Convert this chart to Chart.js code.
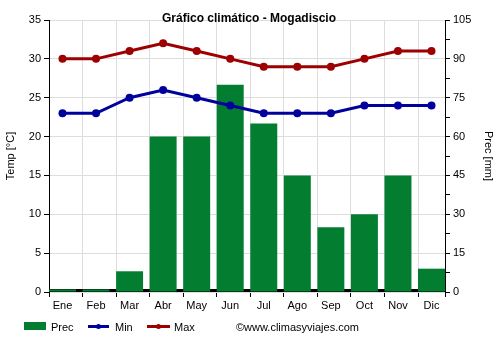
<!DOCTYPE html>
<html><head><meta charset="utf-8">
<script src="https://cdn.jsdelivr.net/npm/chart.js@4"></script>
<style>html,body{margin:0;padding:0;background:#fff}#wrap{width:500px;height:350px}</style>
</head><body><div id="wrap"><canvas id="c" width="500" height="350"></canvas></div>
<script>
const months = ['Ene','Feb','Mar','Abr','May','Jun','Jul','Ago','Sep','Oct','Nov','Dic'];
const prec = [1, 1, 8, 60, 60, 80, 65, 45, 25, 30, 45, 9];
const tMin = [23, 23, 25, 26, 25, 24, 23, 23, 23, 24, 24, 24];
const tMax = [30, 30, 31, 32, 31, 30, 29, 29, 29, 30, 31, 31];
const chartTitle = 'Gráfico climático - Mogadiscio';
const credit = '©www.climasyviajes.com';

const GREEN = '#037e31', BLUE = '#00009c', RED = '#9c0000';
const FONT = 'Arial, "Liberation Sans", sans-serif';
const HALF = 0.402;   // half bar width, in category units
const BARFRAC = 0.804;

const toXY = arr => arr.map((v, i) => ({ x: i, y: v }));

const overlay = {
  id: 'overlay',
  beforeDatasetsDraw(chart) {
    const ctx = chart.ctx, a = chart.chartArea;
    const y0 = Math.round(chart.scales.y.getPixelForValue(0));
    ctx.save();
    ctx.fillStyle = '#000';
    ctx.fillRect(a.left, y0 - 3, a.right - a.left, 3);
    ctx.restore();
  },
  afterDraw(chart) {
    const ctx = chart.ctx;
    ctx.save();
    ctx.fillStyle = '#000';
    ctx.textBaseline = 'alphabetic';
    ctx.font = 'bold 12px ' + FONT;
    ctx.textAlign = 'center';
    ctx.fillText(chartTitle, 249, 22);
    ctx.font = '11px ' + FONT;
    ctx.textAlign = 'left';
    ctx.fillStyle = GREEN;
    ctx.fillRect(24, 322, 22, 8);
    ctx.fillStyle = '#000';
    ctx.fillText('Prec', 51, 330.5);
    const lineItem = (x1, x2, col, label, tx) => {
      ctx.strokeStyle = col; ctx.lineWidth = 3;
      ctx.beginPath(); ctx.moveTo(x1, 326.5); ctx.lineTo(x2, 326.5); ctx.stroke();
      ctx.fillStyle = col;
      ctx.beginPath(); ctx.arc((x1 + x2) / 2, 326.5, 2.5, 0, Math.PI * 2); ctx.fill();
      ctx.fillStyle = '#000';
      ctx.fillText(label, tx, 330.5);
    };
    lineItem(88, 109, BLUE, 'Min', 115);
    lineItem(147, 170, RED, 'Max', 174);
    ctx.fillText(credit, 236, 330.5);
    ctx.restore();
  }
};

new Chart(document.getElementById('c'), {
  type: 'bar',
  data: {
    datasets: [
      { type: 'line', label: 'Max', data: toXY(tMax), yAxisID: 'y', xAxisID: 'x', borderColor: RED, backgroundColor: RED,
        borderWidth: 3, pointRadius: 4, pointBackgroundColor: RED, pointBorderWidth: 0, order: 1 },
      { type: 'line', label: 'Min', data: toXY(tMin), yAxisID: 'y', xAxisID: 'x', borderColor: BLUE, backgroundColor: BLUE,
        borderWidth: 3, pointRadius: 4, pointBackgroundColor: BLUE, pointBorderWidth: 0, order: 1 },
      { type: 'bar', label: 'Prec', data: toXY(prec), yAxisID: 'y1', xAxisID: 'x', backgroundColor: GREEN,
        barPercentage: BARFRAC, categoryPercentage: 1.0, order: 2 }
    ]
  },
  options: {
    responsive: false,
    animation: false,
    devicePixelRatio: 1,
    layout: { padding: { top: 20, left: 0, right: 0, bottom: 0 } },
    plugins: { legend: { display: false }, title: { display: false }, tooltip: { enabled: false } },
    scales: {
      xg: {
        type: 'linear', position: 'bottom', weight: 0,
        min: -HALF, max: 11 + HALF, offset: false,
        afterBuildTicks(s) {
          const t = months.map((m, i) => ({ value: i - HALF }));
          t.push({ value: 11 + HALF });
          s.ticks = t;
        },
        ticks: { callback: () => '', font: { size: 1 }, padding: 0 },
        grid: { offset: false, tickColor: '#000', tickLength: 5,
          color: c => (c.index === 0 || c.index === 12) ? 'rgba(0,0,0,0)' : '#dddddd' },
        border: { display: false },
        afterFit(s) { s.height = 0; }
      },
      x: {
        type: 'linear', position: 'bottom', weight: 10,
        min: -HALF, max: 11 + HALF, offset: false,
        afterBuildTicks(s) { s.ticks = months.map((m, i) => ({ value: i })); },
        ticks: { color: '#000', font: { family: FONT, size: 11 }, padding: 7, maxRotation: 0, autoSkip: false,
          callback: v => months[Math.round(v)] },
        grid: { display: false, drawTicks: false, offset: false },
        border: { display: false },
        afterFit(s) { s.height = 58; }
      },
      y: {
        position: 'left', min: 0, max: 35,
        ticks: { stepSize: 5, color: '#000', font: { family: FONT, size: 11 }, padding: 3 },
        grid: { color: '#dddddd', tickColor: '#000', tickLength: 5 },
        border: { color: '#000', width: 1 },
        title: { display: true, text: 'Temp [°C]', color: '#000', font: { family: FONT, size: 11 }, padding: 4 },
        afterFit(s) { s.width = 49; }
      },
      y1: {
        position: 'right', min: 0, max: 105,
        ticks: { stepSize: 7.5, color: '#000', font: { family: FONT, size: 11 }, padding: 3,
          callback: v => (v % 15 === 0 ? v : '') },
        grid: { drawOnChartArea: false, tickColor: '#000', tickLength: 5 },
        border: { color: '#000', width: 1 },
        title: { display: true, text: 'Prec [mm]', color: '#000', font: { family: FONT, size: 11 }, padding: 5 },
        afterFit(s) { s.width = 55; }
      }
    }
  },
  plugins: [overlay]
});
</script></body></html>
